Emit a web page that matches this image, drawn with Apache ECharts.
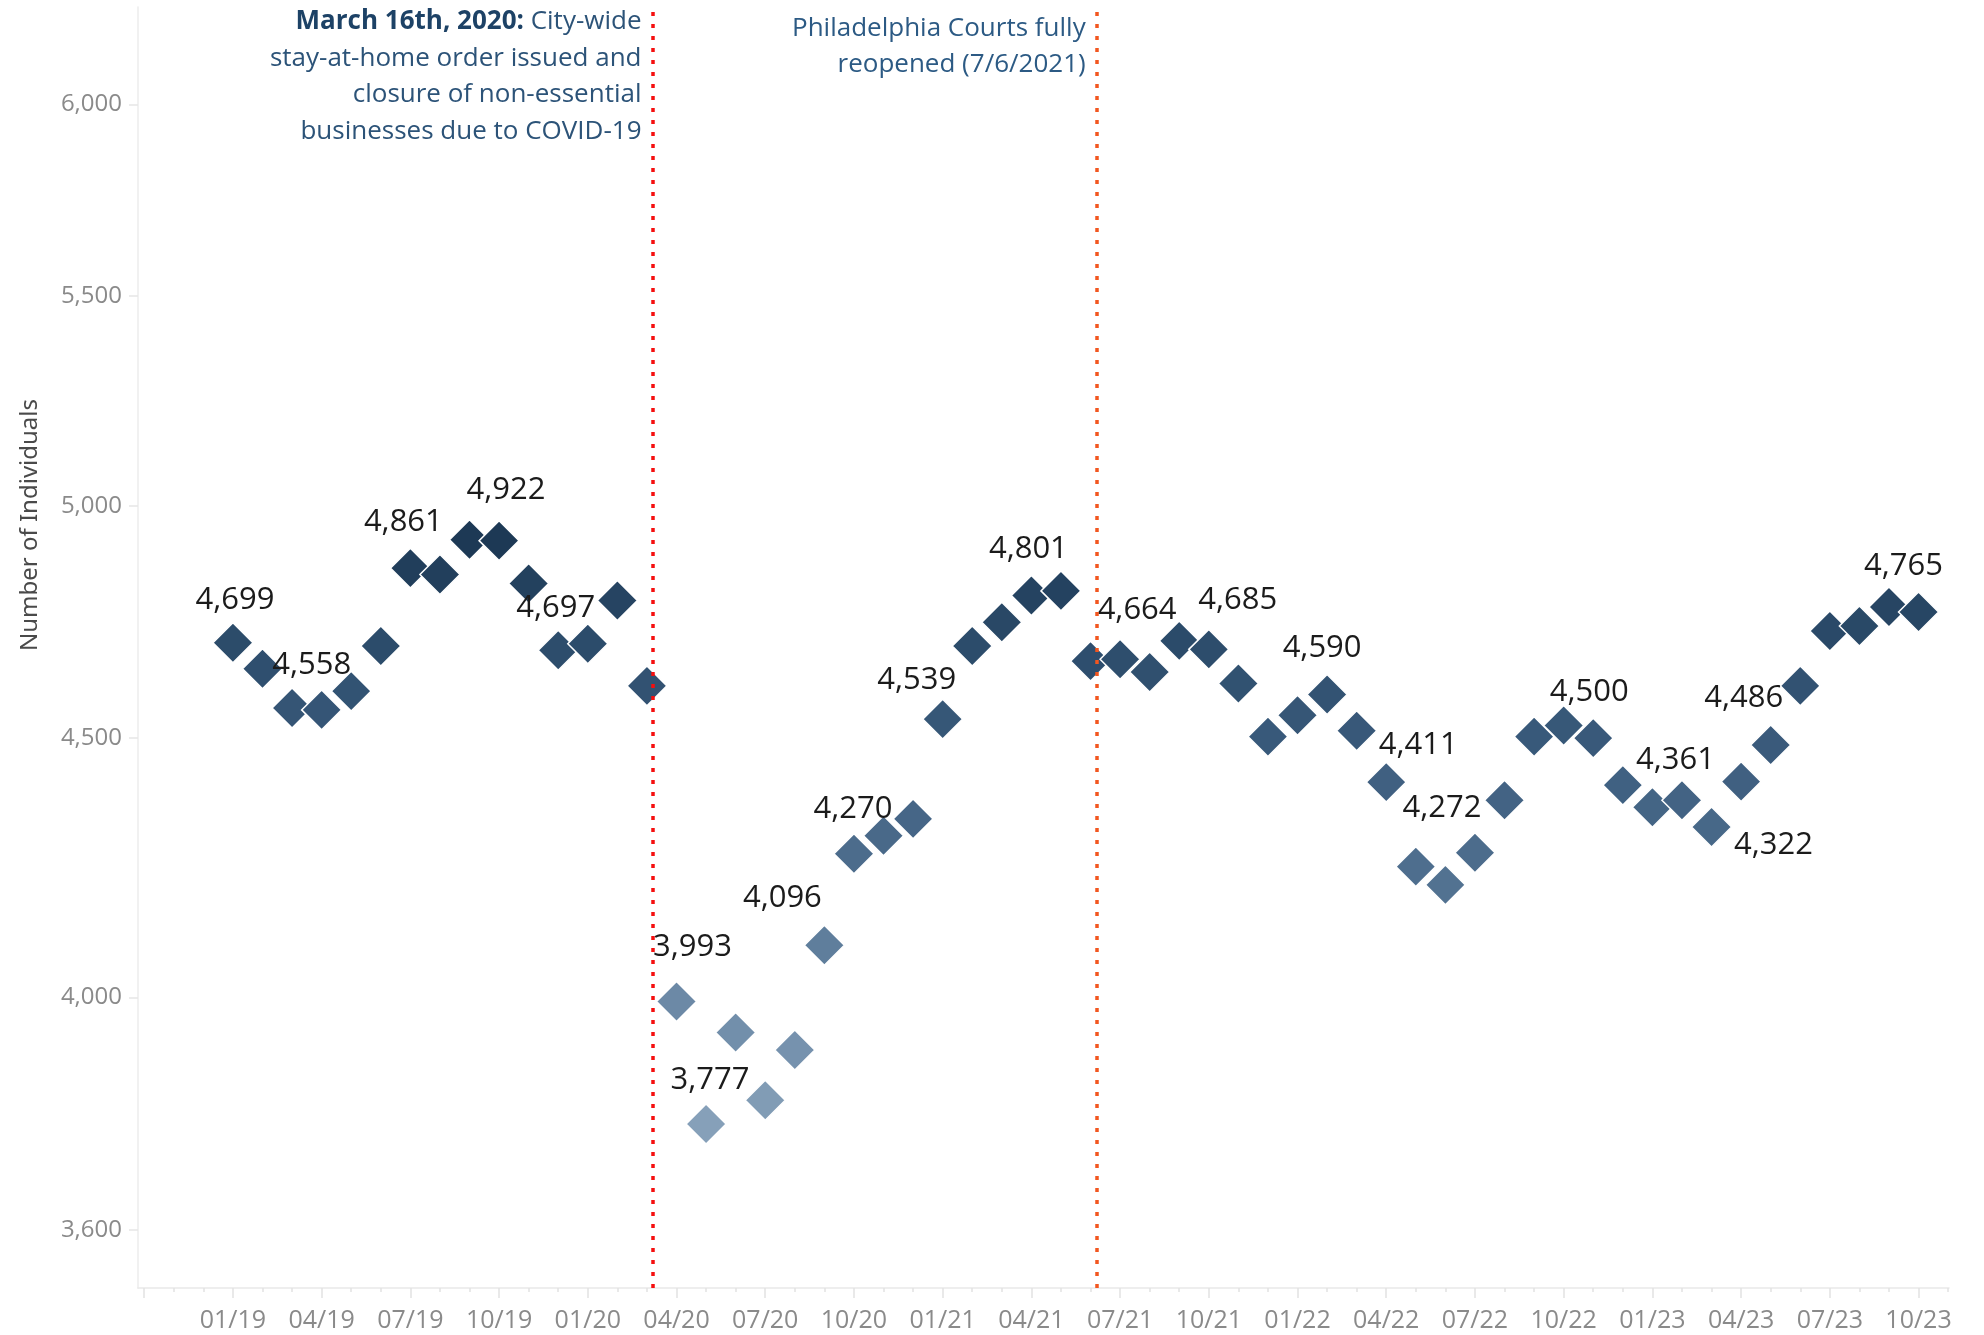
<!DOCTYPE html>
<html>
<head>
<meta charset="utf-8">
<script src="https://cdn.jsdelivr.net/npm/echarts@6/dist/echarts.min.js"></script>
<style>
html,body{margin:0;padding:0;background:#fff;}
#chart{width:1984px;height:1335px;}
</style>
</head>
<body>
<div id="chart"></div>
<script>
// ---- data ----
const months = ['01/19','02/19','03/19','04/19','05/19','06/19','07/19','08/19','09/19','10/19','11/19','12/19',
  '01/20','02/20','03/20','04/20','05/20','06/20','07/20','08/20','09/20','10/20','11/20','12/20',
  '01/21','02/21','03/21','04/21','05/21','06/21','07/21','08/21','09/21','10/21','11/21','12/21',
  '01/22','02/22','03/22','04/22','05/22','06/22','07/22','08/22','09/22','10/22','11/22','12/22',
  '01/23','02/23','03/23','04/23','05/23','06/23','07/23','08/23','09/23','10/23'];
const values = [4699,4644,4562,4558,4597,4692,4861,4847,4924,4922,4827,4683,
  4697,4790,4608,3993,3777,3937,3818,3906,4096,4270,4305,4338,
  4539,4692,4743,4801,4811,4660,4664,4637,4703,4685,4613,4503,
  4547,4590,4515,4411,4245,4210,4272,4375,4503,4526,4500,4405,
  4361,4375,4322,4412,4486,4608,4724,4735,4776,4765];
const labeledMonths = ['01/19','04/19','07/19','10/19','01/20','04/20','05/20','09/20','10/20','01/21','04/21',
  '07/21','10/21','02/22','04/22','07/22','11/22','01/23','03/23','05/23','10/23'];
// axis months incl. the padding months before/after the data
const axisMonths = ['10/18','11/18','12/18'].concat(months, ['11/23']);
const majorTickMonths = ['10/18','01/19','04/19','07/19','10/19','01/20','04/20','07/20','10/20','01/21','04/21',
  '07/21','10/21','01/22','04/22','07/22','10/22','01/23','04/23','07/23','10/23'];
const tickLabels = ['01/19','04/19','07/19','10/19','01/20','04/20','07/20','10/20','01/21','04/21',
  '07/21','10/21','01/22','04/22','07/22','10/22','01/23','04/23','07/23','10/23'];
const yTicks = [3600,4000,4500,5000,5500,6000];
const eventPositions = [14.18, 29.2]; // month-index positions of the two reference lines

// ---- layout (label nudges, px) ----
const labelNudge = {
  '01/19':[2,-43],'04/19':[-10,-45],'07/19':[-7,-46],'10/19':[7,-50],'01/20':[-32,-36],
  '04/20':[16,-54],'05/20':[4,-44],'09/20':[-42,-47],'10/20':[-1,-45],'01/21':[-26,-39],
  '04/21':[-3,-46],'07/21':[17,-49],'10/21':[29,-49],'02/22':[-5,-46],'04/22':[32,-37],
  '07/22':[-33,-44],'11/22':[-4,-46],'01/23':[23,-47],'03/23':[62,18],'05/23':[-27,-47],'10/23':[-15,-46]
};

const idx = m => axisMonths.indexOf(m) - 3;
const fmt = v => String(Math.round(v)).replace(/\B(?=(\d{3})+(?!\d))/g, ',');

const data = values.map((v, i) => {
  const m = months[i];
  const item = { value: [i, v] };
  if (labeledMonths.indexOf(m) >= 0) item.label = { show: true };
  return item;
});

const FONT = 'Open Sans';
const chart = echarts.init(document.getElementById('chart'), null, { renderer: 'canvas' });
chart.setOption({
  animation: false,
  backgroundColor: '#ffffff',
  grid: { left: 138, right: 35, top: 7, bottom: 47, containLabel: false, outerBoundsMode: 'none' },
  xAxis: [{
    type: 'value',
    min: -3.21, max: 58.03,
    axisLine: { show: true, onZero: false, lineStyle: { color: '#e9e9e9', width: 1.5 } },
    axisTick: { show: true, length: 10, customValues: majorTickMonths.map(idx), lineStyle: { color: '#e2e2e2', width: 1.5 } },
    axisLabel: {
      customValues: tickLabels.map(idx),
      formatter: v => axisMonths[Math.round(v) + 3],
      color: '#8a8a8a', fontSize: 25, fontFamily: FONT, margin: 20
    },
    splitLine: { show: false }
  }, {
    type: 'value',
    min: -3.21, max: 58.03,
    position: 'bottom',
    axisLine: { show: false, onZero: false },
    axisTick: { show: true, length: 4, customValues: axisMonths.map((m, i) => i - 3), lineStyle: { color: '#e2e2e2', width: 1.5 } },
    axisLabel: { show: false },
    splitLine: { show: false }
  }],
  yAxis: {
    type: 'log',
    logBase: 10,
    min: 3506, max: 6271,
    axisLine: { show: true, onZero: false, lineStyle: { color: '#ececec', width: 1.5 } },
    axisTick: { show: true, length: 9, customValues: yTicks, lineStyle: { color: '#e6e6e6', width: 1.5 } },
    axisLabel: { customValues: yTicks, formatter: v => fmt(v), color: '#8a8a8a', fontSize: 24, fontFamily: FONT, margin: 16 },
    splitLine: { show: false },
    minorTick: { show: false }
  },
  visualMap: {
    show: false, type: 'continuous', seriesIndex: 0, dimension: 1,
    min: 3777, max: 4922,
    inRange: { color: ['#86a0b9', '#6a88a5', '#4f6f8f', '#3b5c7d', '#2c4c6b', '#1d3955'] }
  },
  series: [{
    type: 'scatter',
    symbol: 'diamond',
    symbolSize: 40,
    itemStyle: { borderColor: '#ffffff', borderWidth: 1.5, opacity: 1 },
    label: {
      show: false, position: 'inside',
      formatter: p => fmt(p.value[1]),
      color: '#1b1b1b', fontSize: 31, fontFamily: FONT
    },
    labelLayout: p => {
      const n = labelNudge[months[p.dataIndex]];
      return n ? { dx: n[0], dy: n[1], hideOverlap: false } : {};
    },
    data: data,
    markLine: {
      silent: true, symbol: 'none',
      label: { show: false },
      lineStyle: { type: [4, 8], width: 3.5 },
      data: [
        { xAxis: eventPositions[0], lineStyle: { color: '#f50f0f', type: [4, 8], width: 3.5 } },
        { xAxis: eventPositions[1], lineStyle: { color: '#f2561f', type: [4, 8], width: 3.5 } }
      ]
    }
  }],
  graphic: [
    {
      type: 'text', x: 30, y: 525, rotation: Math.PI / 2,
      style: { text: 'Number of Individuals', fontSize: 24, fontFamily: 'Noto Sans', fill: '#4a4a4a', align: 'center', verticalAlign: 'middle' }
    },
    {
      type: 'text', x: 641.5, y: 3.5,
      style: {
        text: '{b|March 16th, 2020:} City-wide\nstay-at-home order issued and\nclosure of non-essential\nbusinesses due to COVID-19',
        align: 'right', verticalAlign: 'top', fontSize: 26, fontFamily: FONT, fill: '#2c5378', lineHeight: 36.5,
        rich: { b: { fontWeight: 'bold', fontSize: 26, fontFamily: FONT, fill: '#1d4266', lineHeight: 36.5 } }
      }
    },
    {
      type: 'text', x: 1085.7, y: 10,
      style: {
        text: 'Philadelphia Courts fully\nreopened (7/6/2021)',
        align: 'right', verticalAlign: 'top', fontSize: 26, fontFamily: FONT, fill: '#2c5a84', lineHeight: 36.7
      }
    }
  ]
});
</script>
</body>
</html>
